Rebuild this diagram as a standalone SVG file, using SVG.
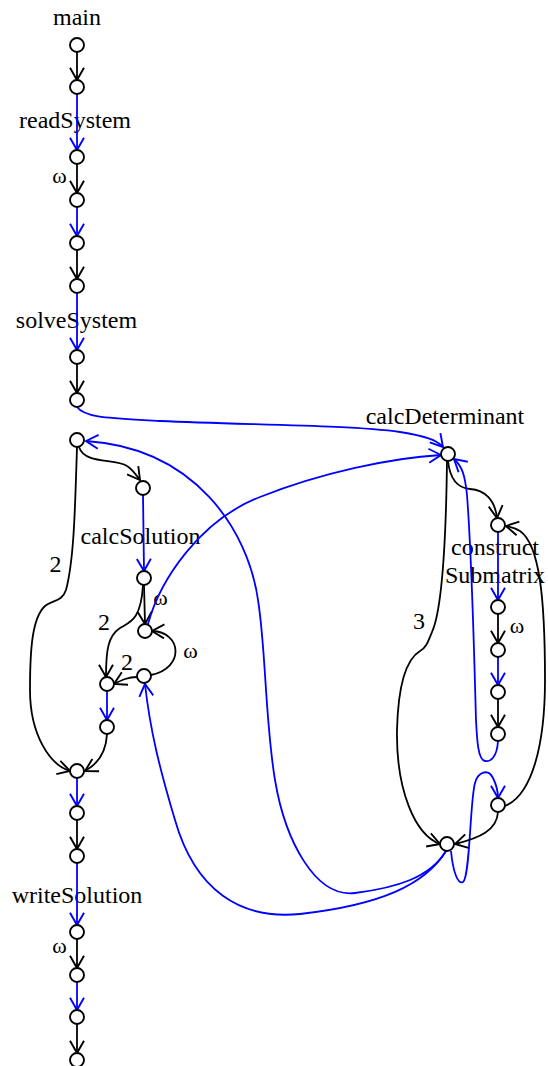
<svg xmlns="http://www.w3.org/2000/svg" width="548" height="1066" viewBox="0 0 548 1066">
<style>
.n{fill:#fff;stroke:#000;stroke-width:1.9}
.k{fill:none;stroke:#000;stroke-width:1.8;marker-end:url(#ak)}
.b{fill:none;stroke:#00f;stroke-width:1.8;marker-end:url(#ab)}
</style>
<defs>
<marker id="ak" markerUnits="userSpaceOnUse" markerWidth="15" markerHeight="16" viewBox="0 0 15 16" refX="13" refY="8" orient="auto">
<path d="M0.8,1 L13,8 L0.8,15" fill="none" stroke="#000" stroke-width="1.9"/>
</marker>
<marker id="ab" markerUnits="userSpaceOnUse" markerWidth="15" markerHeight="16" viewBox="0 0 15 16" refX="13" refY="8" orient="auto">
<path d="M0.8,1 L13,8 L0.8,15" fill="none" stroke="#00f" stroke-width="1.9"/>
</marker>
</defs>
<g id="labels" font-family="Liberation Serif, serif" font-size="24" text-anchor="middle" fill="#000">
<text x="77" y="25">main</text>
<text x="75" y="128">readSystem</text>
<text x="76.5" y="328">solveSystem</text>
<text x="140.5" y="544">calcSolution</text>
<text x="445" y="424">calcDeterminant</text>
<text x="495" y="555">construct</text>
<text x="495" y="583">Submatrix</text>
<text x="77" y="903">writeSolution</text>
<g font-size="22">
<text x="59.5" y="183">ω</text>
<text x="59.5" y="953">ω</text>
<text x="160.5" y="605">ω</text>
<text x="190.5" y="658">ω</text>
<text x="517" y="633">ω</text>
</g>
<text x="55.5" y="572">2</text>
<text x="104" y="630">2</text>
<text x="127" y="670">2</text>
<text x="419" y="629">3</text>
</g>
<g id="edges">
<path class="k" d="M77,52 L77,80"/>
<path class="b" d="M77,94 L77,150"/>
<path class="k" d="M77,164 L77,193"/>
<path class="b" d="M77,207 L77,236"/>
<path class="k" d="M77,250 L77,279"/>
<path class="b" d="M77,293 L77,350"/>
<path class="k" d="M77,364 L77,393"/>
<path class="b" d="M77,407 C85,418 110,418 160,421 C250,425 350,425 400,432 C425,436 437,440 443,447"/>
<path class="k" d="M79,447 C85,465 115,458 127,466 C132,469 134,472 140,480"/>
<path class="k" d="M77,447 C75,510 74,560 66,590 C62,602 52,600 45,606 C32,618 30,650 30,690 C30,735 50,765 70,771"/>
<path class="b" d="M143,495 L144,571"/>
<path class="k" d="M144,585 L145,624"/>
<path class="k" d="M143,585 C141,620 130,622 120,628 C108,636 106,650 106,677"/>
<path class="b" d="M148,624 C160,580 200,520 260,497 C320,473 390,458 441,455"/>
<path class="k" d="M151,675 C185,668 182,632 152,631"/>
<path class="k" d="M137,677 C128,677 122,680 114,684"/>
<path class="b" d="M107,691 L107,720"/>
<path class="k" d="M107,734 C106,755 96,765 85,771"/>
<path class="b" d="M77,778 L77,806"/>
<path class="k" d="M77,820 L77,849"/>
<path class="b" d="M77,863 L77,925"/>
<path class="k" d="M77,939 L77,968"/>
<path class="b" d="M77,982 L77,1010"/>
<path class="k" d="M77,1024 L77,1053"/>
<path class="b" d="M446,851 C430,878 395,888 355,893 C315,898 285,840 275,780 C265,720 266,650 258,600 C248,530 195,448 86,441"/>
<path class="b" d="M446,851 C425,885 380,905 300,914 C240,920 195,890 175,820 C160,770 150,730 145,684"/>
<path class="k" d="M448,461 C450,480 458,488 470,489 C485,490 495,500 497,518"/>
<path class="k" d="M447,461 C446,540 442,610 432,632 C428,642 426,648 420,651 C405,660 398,690 397,730 C396,790 415,835 440,844"/>
<path class="b" d="M498,532 L498,600"/>
<path class="k" d="M498,614 L498,643"/>
<path class="b" d="M498,657 L498,685"/>
<path class="k" d="M498,699 L498,727"/>
<path class="b" d="M498,741 C497,758 490,762 485,761 C478,760 477,740 476,720 C474,650 472,560 467,495 C465,475 462,466 454,459"/>
<path class="k" d="M505,806 C532,795 545,745 545,680 C545,600 540,545 520,531 C515,528 511,527 506,526"/>
<path class="b" d="M451,851 C453,872 458,885 463,882 C470,878 470,800 475,783 C478,772 488,768 493,778 C496,784 498,790 498,798"/>
<path class="k" d="M498,812 C497,830 480,838 455,844"/>
</g>
<g id="n1"><circle class="n" cx="77" cy="45" r="7"/></g>
<g id="n2"><circle class="n" cx="77" cy="87" r="7"/></g>
<g id="n3"><circle class="n" cx="77" cy="157" r="7"/></g>
<g id="n4"><circle class="n" cx="77" cy="200" r="7"/></g>
<g id="n5"><circle class="n" cx="77" cy="243" r="7"/></g>
<g id="n6"><circle class="n" cx="77" cy="286" r="7"/></g>
<g id="n7"><circle class="n" cx="77" cy="357" r="7"/></g>
<g id="n8"><circle class="n" cx="77" cy="400" r="7"/></g>
<g id="n9"><circle class="n" cx="77" cy="440" r="7"/></g>
<g id="n10"><circle class="n" cx="143" cy="488" r="7"/></g>
<g id="n11"><circle class="n" cx="144" cy="578" r="7"/></g>
<g id="n12"><circle class="n" cx="145" cy="631" r="7"/></g>
<g id="n13"><circle class="n" cx="144" cy="676" r="7"/></g>
<g id="n14"><circle class="n" cx="107" cy="684" r="7"/></g>
<g id="n15"><circle class="n" cx="107" cy="727" r="7"/></g>
<g id="n16"><circle class="n" cx="77" cy="771" r="7"/></g>
<g id="n17"><circle class="n" cx="77" cy="813" r="7"/></g>
<g id="n18"><circle class="n" cx="77" cy="856" r="7"/></g>
<g id="n19"><circle class="n" cx="77" cy="932" r="7"/></g>
<g id="n20"><circle class="n" cx="77" cy="975" r="7"/></g>
<g id="n21"><circle class="n" cx="77" cy="1017" r="7"/></g>
<g id="n22"><circle class="n" cx="77" cy="1060" r="7"/></g>
<g id="n23"><circle class="n" cx="448" cy="454" r="7"/></g>
<g id="n24"><circle class="n" cx="498" cy="525" r="7"/></g>
<g id="n25"><circle class="n" cx="498" cy="607" r="7"/></g>
<g id="n26"><circle class="n" cx="498" cy="650" r="7"/></g>
<g id="n27"><circle class="n" cx="498" cy="692" r="7"/></g>
<g id="n28"><circle class="n" cx="498" cy="734" r="7"/></g>
<g id="n29"><circle class="n" cx="498" cy="805" r="7"/></g>
<g id="n30"><circle class="n" cx="447" cy="844" r="7"/></g>
</svg>
